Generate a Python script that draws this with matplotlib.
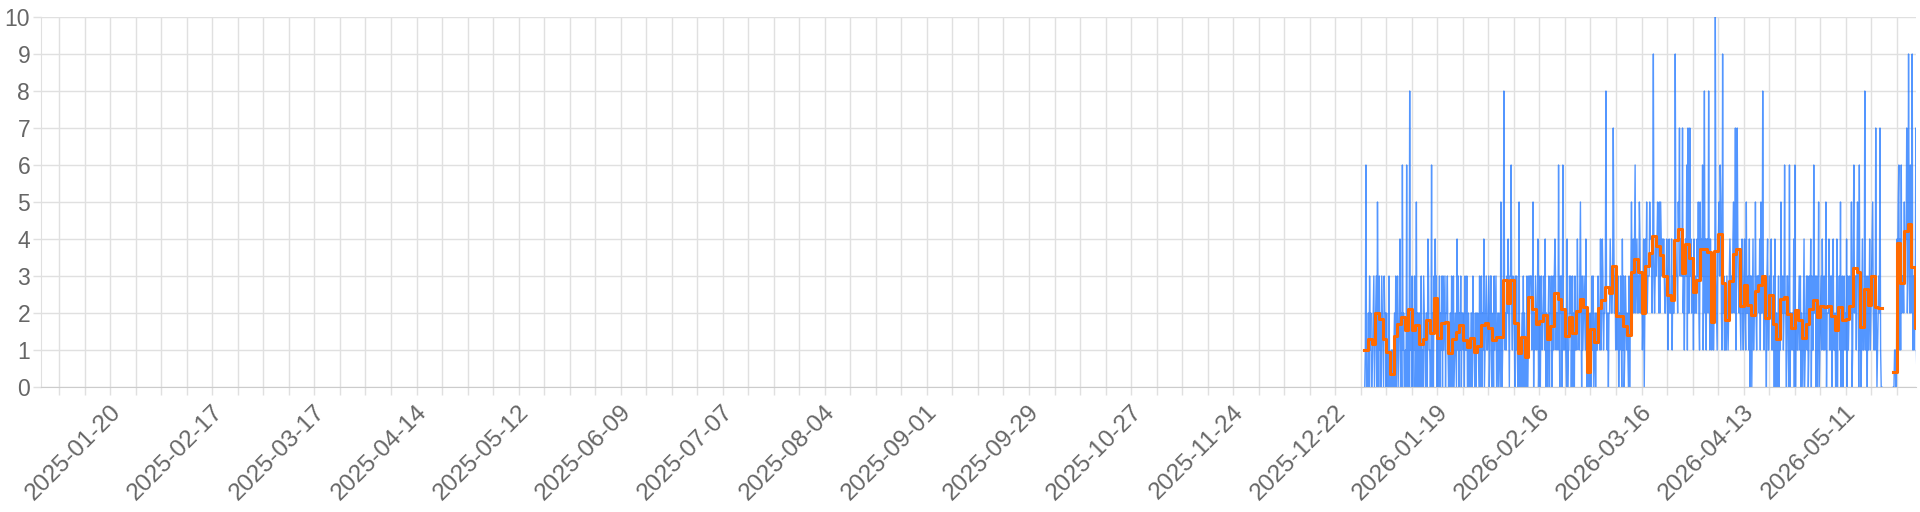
import numpy as np
import pandas as pd
import matplotlib
matplotlib.use('Agg')
import matplotlib.pyplot as plt
import matplotlib.transforms as mtransforms

plt.rcParams['font.family'] = ['Liberation Sans', 'DejaVu Sans']

# axis range and label dates
x_start = '2025-01-01'
x_end = '2026-05-30 07:00'
label_start = '2025-01-20'
grid_start = '2025-01-06'

# daily mean (orange step line), first day of data
first_day = '2025-12-30'
daily_mean = [1.0, 1.29, 1.15, 2.0, 1.83, 1.29, 0.94, 0.34, 1.39, 1.69,
              1.89, 1.54, 2.1, 1.54, 1.68, 1.16, 1.29, 1.8, 1.45, 2.4,
              1.32, 1.74, 1.75, 0.92, 1.29, 1.5, 1.67, 1.28, 1.09, 1.33,
              0.94, 1.12, 1.68, 1.72, 1.59, 1.27, 1.34, 1.36, 2.89, 2.28,
              2.89, 1.73, 0.93, 1.34, 0.81, 2.43, 2.1, 1.71, 1.78, 1.94,
              1.29, 1.66, 2.54, 2.37, 2.1, 1.39, 1.89, 1.45, 2.05, 2.39,
              2.16, 0.41, 1.57, 1.21, 2.13, 2.34, 2.71, 2.54, 3.27, 1.91,
              1.91, 1.64, 1.4, 3.11, 3.46, 3.11, 2.0, 3.27, 3.61, 4.09,
              3.81, 3.58, 3.0, 2.5, 2.34, 3.96, 4.26, 3.09, 3.87, 3.49,
              2.57, 2.9, 3.72, 3.72, 3.65, 1.77, 3.68, 4.14, 2.81, 1.81,
              2.87, 3.59, 3.73, 2.19, 2.76, 2.22, 1.95, 2.59, 2.75, 2.99,
              1.86, 2.48, 1.71, 1.29, 2.39, 2.43, 1.96, 1.6, 2.07, 1.81,
              1.32, 1.71, 2.11, 2.36, 1.89, 2.2, 2.16, 2.2, 1.93, 1.54,
              2.16, 1.81, 1.85, 2.2, 3.22, 3.11, 1.62, 2.66, 2.22, 3.0,
              2.16, 2.13]
gap_days = 3
daily_mean_after = [0.41, 3.88, 2.8, 4.22, 4.41, 3.25, 1.59]

# counts every 4 hours (blue line), one string per day, hex digits
counts = ["016000", "203120", "012301", "230520", "312032", "103220", "201030", "001010",
          "120302", "301240", "206120", "010602", "208120", "302130", "150202", "201301",
          "032102", "204311", "016020", "324230", "201302", "130312", "302231", "010203",
          "203012", "104130", "213022", "120311", "301201", "022031", "102021", "210301",
          "302140", "123112", "301330", "020312", "301202", "105101", "283121", "324203",
          "362132", "203131", "005010", "120302", "100301", "323331", "250213", "212401",
          "302312", "231402", "102302", "230131", "343122", "162032", "306121", "210401",
          "132302", "302031", "214221", "352031", "232141", "010200", "203130", "120211",
          "322141", "243122", "382120", "224322", "374231", "213302", "132041", "301321",
          "210302", "353242", "462342", "325423", "312402", "435233", "354442", "493234",
          "345425", "254343", "432234", "313422", "241322", "394332", "547343", "372313",
          "436172", "273423", "314232", "243521", "534361", "382414", "428314", "212312",
          "2A3214", "453652", "192311", "213212", "343232", "452371", "374323", "213421",
          "342152", "231403", "302412", "252133", "324152", "283122", "203411", "332412",
          "130402", "201302", "152231", "262203", "310602", "212140", "602211", "231302",
          "102401", "231301", "324031", "162230", "302501", "231421", "312502", "224131",
          "303411", "201402", "231502", "302312", "140312", "322501", "462331", "354061",
          "202411", "281320", "312412", "345213", "172012", "327100"]
counts_after = ["001100", "435614", "162332", "534472", "394262", "491312", "271000"]

# build series
t0 = pd.Timestamp(first_day)
day_vals = daily_mean + [np.nan] * gap_days + daily_mean_after
day_vals = day_vals + [day_vals[-1]]
day_times = pd.date_range(t0, periods=len(day_vals), freq='D')

cnt_t, cnt_v = [], []
all_counts = counts + [None] * gap_days + counts_after
for d, s in enumerate(all_counts):
    if s is None:
        cnt_t.append(t0 + pd.Timedelta(days=d + 0.5))
        cnt_v.append(np.nan)
        continue
    for k, ch in enumerate(s):
        cnt_t.append(t0 + pd.Timedelta(hours=24 * d + 4 * k + 2))
        cnt_v.append(int(ch, 16))

fig = plt.figure(figsize=(19.2, 5.12), dpi=100)
ax = fig.add_axes([41 / 1920, 1 - 387 / 512, 1875 / 1920, 370 / 512])

ax.plot(cnt_t, cnt_v, color='#1a73ff', lw=1.0, alpha=0.75)
ax.plot(day_times, day_vals, color='#ff6a00', lw=2.2, drawstyle='steps-post')

ax.set_xlim(pd.Timestamp(x_start), pd.Timestamp(x_end))
ax.set_ylim(0, 10)
ax.set_yticks(range(0, 11))

major = pd.date_range(label_start, x_end, freq='28D')
minor = pd.date_range(grid_start, x_end, freq='7D')
ax.set_xticks(major)
ax.set_xticklabels([d.strftime('%Y-%m-%d') for d in major], rotation=45,
                   ha='right', va='center', rotation_mode='anchor')
ax.set_xticks(minor, minor=True)

grid_c = '#e0e0e0'
ax.grid(True, which='both', color=grid_c, lw=1.0)
ax.set_axisbelow(True)
ax.tick_params(axis='both', which='both', color=grid_c, length=5.8, width=1.0,
               labelsize=16.5, labelcolor='#666666')
ax.tick_params(axis='x', which='major', pad=10, labelsize=17.5)
ax.tick_params(axis='y', pad=2)

# shift rotated labels slightly right, like the original
shift = mtransforms.ScaledTranslation(7 / 100, 0, fig.dpi_scale_trans)
for lab in ax.get_xticklabels():
    lab.set_transform(lab.get_transform() + shift)

for side in ['top', 'right']:
    ax.spines[side].set_visible(False)
ax.spines['left'].set_color(grid_c)
ax.spines['bottom'].set_color('#cccccc')

fig.savefig('out.png', dpi=100)
